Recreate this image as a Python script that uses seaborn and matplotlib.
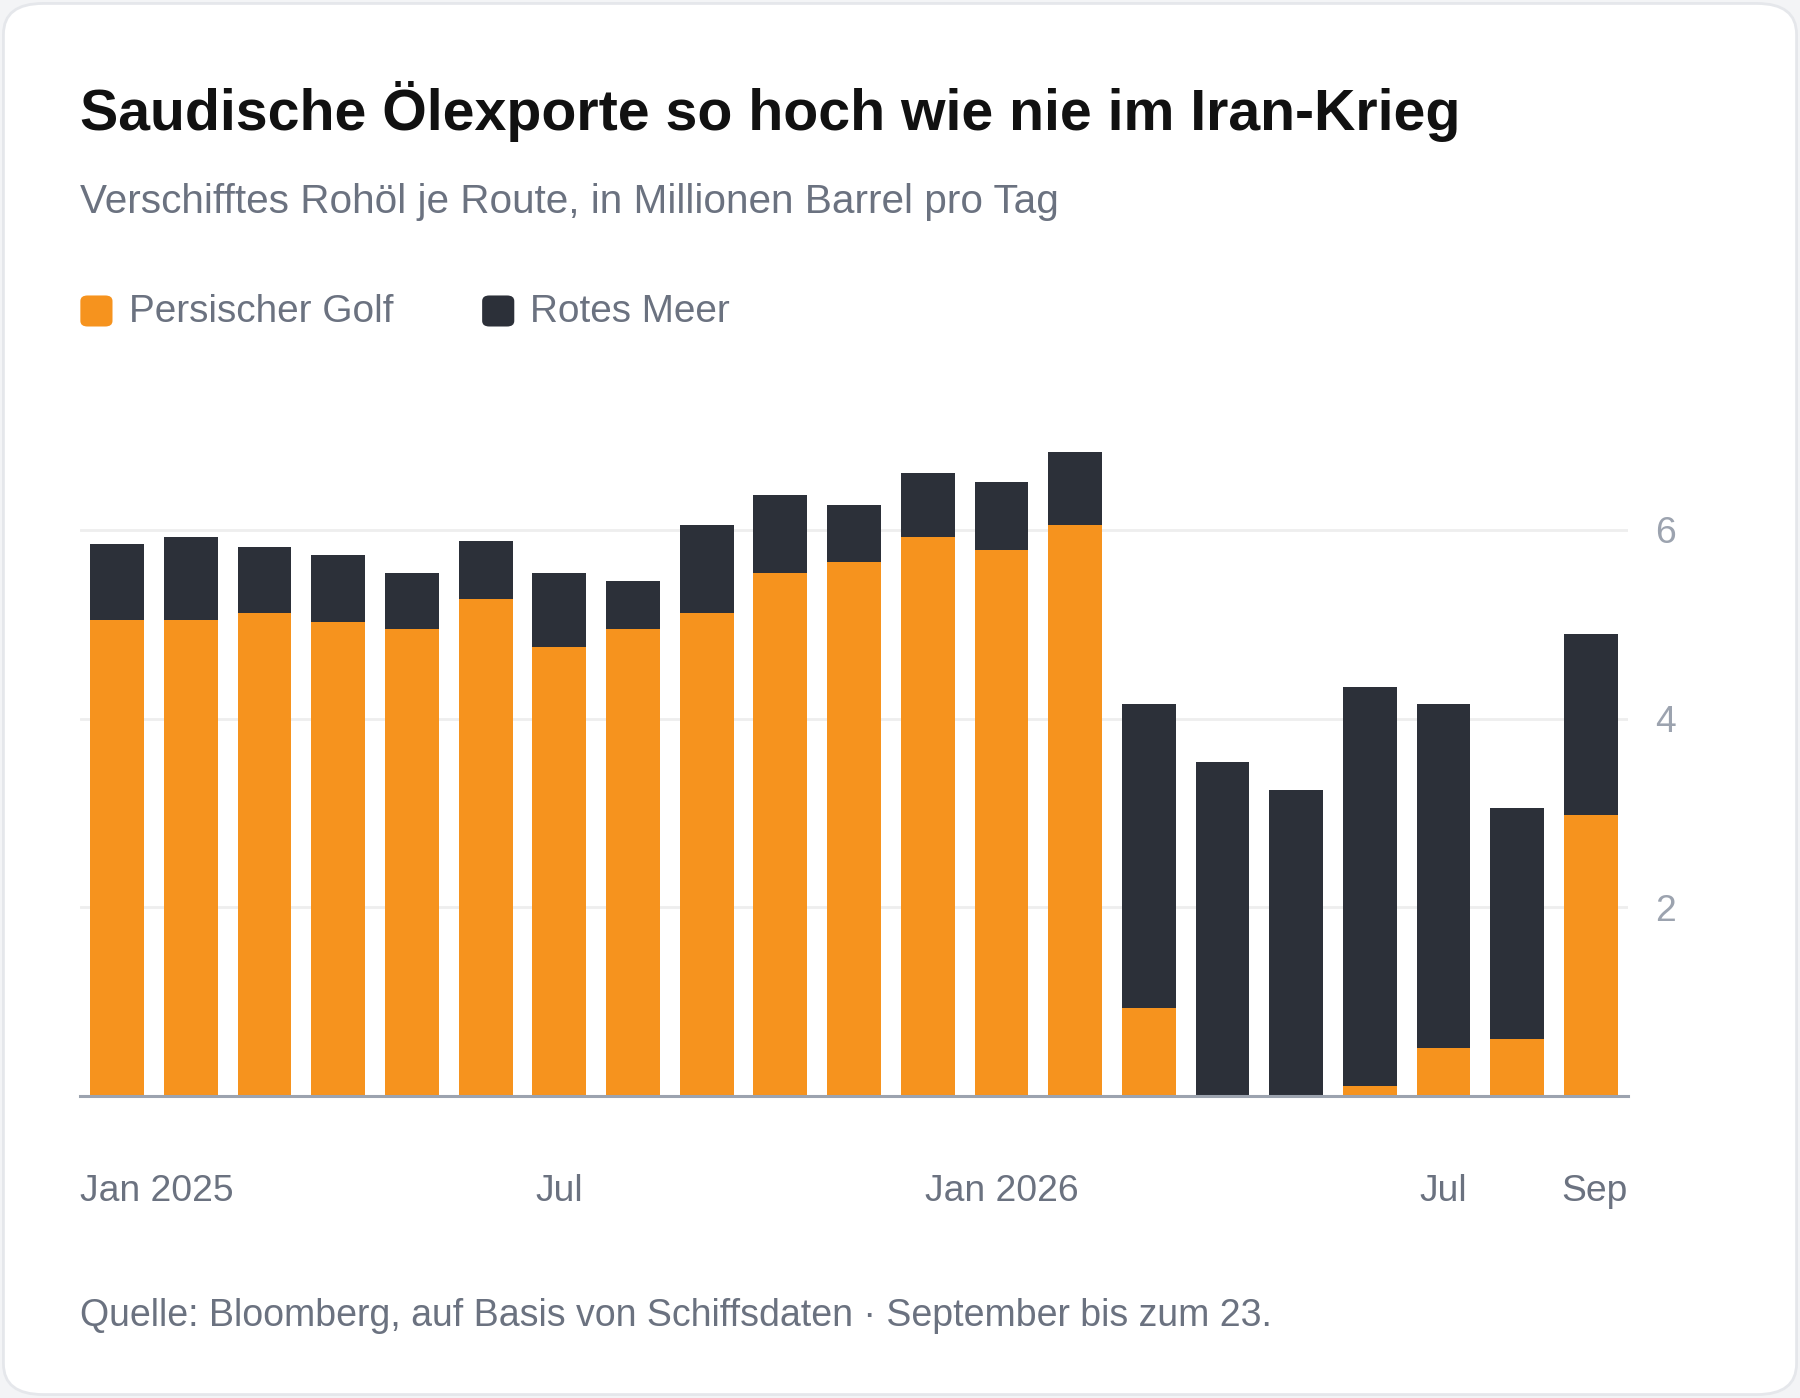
import matplotlib
matplotlib.use("Agg")
import matplotlib.pyplot as plt
from matplotlib.patches import FancyBboxPatch
import pandas as pd
import seaborn as sns

# data (million barrels per day), Jan 2025 .. Sep 2026
months = [
    "2025-01", "2025-02", "2025-03", "2025-04", "2025-05", "2025-06", "2025-07",
    "2025-08", "2025-09", "2025-10", "2025-11", "2025-12", "2026-01", "2026-02",
    "2026-03", "2026-04", "2026-05", "2026-06", "2026-07", "2026-08", "2026-09",
]
persian_gulf = [5.05, 5.05, 5.12, 5.02, 4.95, 5.27, 4.76, 4.95, 5.12, 5.54, 5.66,
                5.93, 5.79, 6.05, 0.93, 0.0, 0.0, 0.10, 0.50, 0.60, 2.98]
red_sea = [0.80, 0.88, 0.70, 0.72, 0.59, 0.61, 0.78, 0.51, 0.93, 0.83, 0.61,
           0.67, 0.72, 0.78, 3.22, 3.54, 3.24, 4.23, 3.65, 2.45, 1.92]
tick_labels = {"2025-01": "Jan 2025", "2025-07": "Jul", "2026-01": "Jan 2026",
               "2026-07": "Jul", "2026-09": "Sep"}
y_ticks = [2, 4, 6]

ORANGE = "#f6931e"
DARK = "#2c3039"
GRAY = "#6b7280"
LIGHT = "#9ca3af"

df = pd.DataFrame({"month": months, "gulf": persian_gulf, "red": red_sea})
df["total"] = df["gulf"] + df["red"]

sns.set_theme(style="white")
plt.rcParams["font.family"] = ["Liberation Sans", "DejaVu Sans"]

W, H = 1568, 1216  # reference layout units
fig = plt.figure(figsize=(18, 13.98), dpi=100, facecolor="#f3f4f6")
scale = 1800 / W


def fx(x):
    return x / W


def fy(y):
    return 1 - y / H


def pt(px):
    return px * scale * 0.72


card = FancyBboxPatch((fx(3), fy(1213)), fx(1562), 1210 / H,
                      boxstyle="round,pad=0,rounding_size=0.022",
                      transform=fig.transFigure, facecolor="white",
                      edgecolor="#e5e7eb", linewidth=2, zorder=-5)
fig.patches.append(card)

ax = fig.add_axes([fx(70), fy(953), fx(1418) - fx(70), (953 - 379) / H])
ax.set_facecolor("none")

sns.barplot(data=df, x="month", y="total", color=DARK, width=0.73,
            saturation=1, linewidth=0, ax=ax, zorder=2)
sns.barplot(data=df, x="month", y="gulf", color=ORANGE, width=0.73,
            saturation=1, linewidth=0, ax=ax, zorder=3)

ax.set_ylim(0, 7)
ax.set_xlim(-0.5, len(months) - 0.5)
ax.set_xlabel("")
ax.set_ylabel("")
for sp in ["top", "left", "right"]:
    ax.spines[sp].set_visible(False)
ax.spines["bottom"].set_color(LIGHT)
ax.spines["bottom"].set_linewidth(2.2)
ax.spines["bottom"].set_zorder(4)

ax.yaxis.tick_right()
ax.set_yticks(y_ticks)
ax.set_yticklabels([str(v) for v in y_ticks])
ax.tick_params(axis="y", length=0, pad=pt(24), labelsize=pt(32.5), labelcolor=LIGHT)
ax.grid(axis="y", color="#eeeeee", linewidth=2, zorder=0)
ax.set_axisbelow(True)

# first label hangs from the left edge, last label ends at the right edge
pos = [months.index(m) for m in tick_labels]
pos[0] -= 0.5
pos[-1] += 0.5
ax.set_xticks(pos)
ax.set_xticklabels(list(tick_labels.values()))
ax.tick_params(axis="x", length=0, pad=pt(68), labelsize=pt(32.5), labelcolor=GRAY)
xt = ax.get_xticklabels()
xt[0].set_horizontalalignment("left")
xt[-1].set_horizontalalignment("right")

fig.text(fx(70), fy(113), "Saudische Ölexporte so hoch wie nie im Iran-Krieg",
         fontsize=pt(49.9), fontweight="bold", color="#111111", va="baseline")
fig.text(fx(70), fy(185), "Verschifftes Rohöl je Route, in Millionen Barrel pro Tag",
         fontsize=pt(35.3), color=GRAY, va="baseline")

for x0, label, col in [(70, "Persischer Golf", ORANGE), (420, "Rotes Meer", DARK)]:
    sq = FancyBboxPatch((fx(x0), fy(284)), fx(28), 27 / H,
                        boxstyle="round,pad=0,rounding_size=0.004",
                        transform=fig.transFigure, facecolor=col, edgecolor="none")
    fig.patches.append(sq)
    fig.text(fx(x0 + 42), fy(271), label, fontsize=pt(33.8), color=GRAY, va="center")

fig.text(fx(70), fy(1153),
         "Quelle: Bloomberg, auf Basis von Schiffsdaten · September bis zum 23.",
         fontsize=pt(32.7), color=GRAY, va="baseline")

fig.savefig("out.png", dpi=100, facecolor=fig.get_facecolor())
